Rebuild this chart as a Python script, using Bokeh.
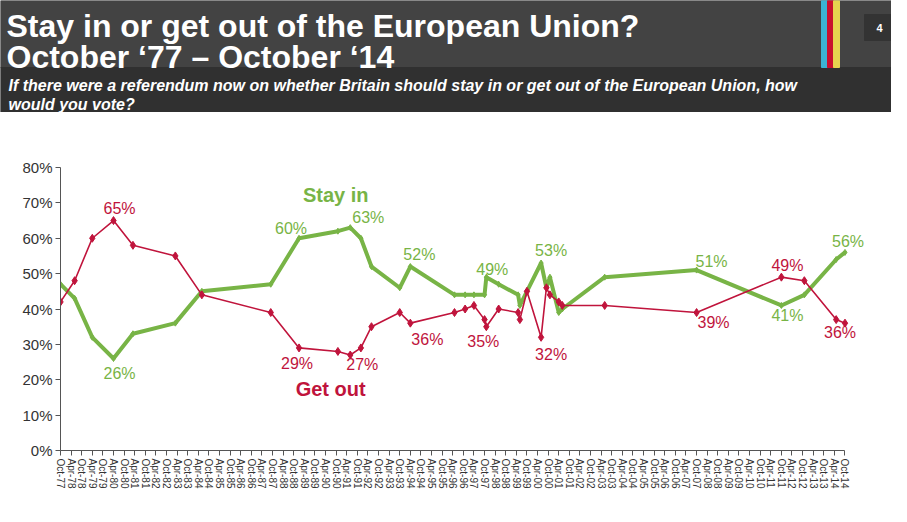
import math
from bokeh.plotting import figure
from bokeh.layouts import column
from bokeh.models import ColumnDataSource, Range1d, FixedTicker, PrintfTickFormatter
from bokeh.core.properties import value
from bokeh.embed import file_html
from bokeh.resources import INLINE

# Poll dates (year-month) and results in %
dates = ["1977-10", "1978-06", "1979-04", "1980-04", "1981-03", "1983-03", "1984-06",
         "1987-09", "1989-01", "1990-11", "1991-06", "1991-12", "1992-06", "1993-10",
         "1994-04", "1996-05", "1996-11", "1997-04", "1997-10", "1997-11", "1998-06",
         "1999-05", "1999-06", "1999-10", "2000-06", "2000-09", "2000-11", "2001-04",
         "2001-06", "2003-06", "2007-10", "2011-10", "2012-11", "2014-05", "2014-10"]
stay_in = [47, 43, 32, 26, 33, 36, 45, 47, 60, 62, 63, 60, 52, 46, 52, 44, 44, 44,
           44, 49, 47, 44, 41, 45, 53, 46, 49, 39, 40, 49, 51, 41, 44, 54, 56]
get_out = [42, 48, 60, 65, 58, 55, 44, 39, 29, 28, 27, 29, 35, 39, 36, 39, 40, 41,
           37, 35, 40, 39, 37, 45, 32, 46, 44, 42, 41, 41, 39, 49, 48, 37, 36]

# half-yearly category labels on the x axis: Oct-77, Apr-78 ... Oct-14
tick_labels = [("Oct" if k % 2 == 0 else "Apr") + "-%02d" % ((1977 + (k + 1) // 2) % 100)
               for k in range(75)]
y_ticks = [0, 10, 20, 30, 40, 50, 60, 70, 80]

title_lines = ["Stay in or get out of the European Union?", "October \u201877 \u2013 October \u201814"]
subtitle_lines = ["If there were a referendum now on whether Britain should stay in or get out of the European Union, how",
                  "would you vote?"]

GREEN = "#78b446"
RED = "#c0143c"
FONT = value("Liberation Sans")


def to_year(d):
    y, m = d.split("-")
    return int(y) + (int(m) - 1) / 12


x = [to_year(d) for d in dates]
tick_pos = [1977.75 + 0.5 * k for k in range(len(tick_labels))]

# ---------- header ----------
h = figure(width=891, height=112, x_range=Range1d(0, 891), y_range=Range1d(112, 0),
           toolbar_location=None, output_backend="svg", min_border=0)
h.frame_align = False
h.axis.visible = False
h.grid.visible = False
h.outline_line_color = None

h.quad(left=[0], right=[891], top=[0], bottom=[67], color="#434343")
h.quad(left=[0], right=[891], top=[67], bottom=[112], color="#303030")
h.quad(left=[821, 827, 833], right=[827, 833, 839], top=[0, 0, 0], bottom=[67, 67, 67],
       color=["#3bb3d3", "#c8102e", "#e6d34f"])
h.quad(left=[864], right=[891], top=[14], bottom=[40], color="#333333")
h.text(x=[879], y=[27], text=["4"], text_font=FONT, text_font_style="bold",
       text_font_size="11px", text_color="white", text_align="center", text_baseline="middle")

h.text(x=[6, 6], y=[25, 56], text=title_lines, text_font=FONT, text_font_style="bold",
       text_font_size="32px", text_color="white", text_baseline="alphabetic")
h.text(x=[8, 8], y=[85, 104], text=subtitle_lines, text_font=FONT, text_font_style="bold italic",
       text_font_size="16px", text_color="white", text_baseline="alphabetic")

# ---------- chart ----------
p = figure(width=891, height=394, x_range=Range1d(1977.75, 2016.0), y_range=Range1d(0, 80),
           toolbar_location=None, output_backend="svg",
           min_border_left=60, min_border_right=20, min_border_top=55, min_border_bottom=56)
p.frame_align = False
p.grid.visible = False
p.outline_line_color = None

p.line(x, stay_in, line_width=4, color=GREEN)
p.scatter(x, stay_in, marker="diamond", size=6, color=GREEN)
p.line(x, get_out, line_width=1.6, color=RED)
p.scatter(x, get_out, marker="diamond", size=8, color=RED)

# value labels: (point index, dx, dy) in pixels
stay_marks = [(3, 6, 15), (8, -8, -10), (10, 18, -10), (14, 9, -12), (19, 6, -8),
              (24, 10, -13), (30, 15, -9), (31, 6, 10), (34, 3, -11)]
out_marks = [(3, 6, -12), (8, -2, 16), (10, 12, 10), (14, 17, 16), (19, -3, 15),
             (24, 10, 17), (30, 17, 10), (31, 6, -12), (34, -5, 9)]

for marks, series, col in [(stay_marks, stay_in, GREEN), (out_marks, get_out, RED)]:
    src = ColumnDataSource(dict(
        x=[x[i] for i, _, _ in marks],
        y=[series[i] for i, _, _ in marks],
        t=["%d%%" % series[i] for i, _, _ in marks],
        dx=[dx for _, dx, _ in marks],
        dy=[dy for _, _, dy in marks],
    ))
    p.text(x="x", y="y", text="t", x_offset="dx", y_offset="dy", source=src,
           text_font=FONT, text_font_size="16px", text_color=col,
           text_align="center", text_baseline="middle")

p.text(x=[1990.73], y=[72.3], text=["Stay in"], text_font=FONT, text_font_style="bold",
       text_font_size="20px", text_color=GREEN, text_align="center", text_baseline="middle")
p.text(x=[1990.49], y=[17.5], text=["Get out"], text_font=FONT, text_font_style="bold",
       text_font_size="20px", text_color=RED, text_align="center", text_baseline="middle")

p.xaxis.bounds = (1977.75, 2014.75)
p.xaxis.ticker = FixedTicker(ticks=tick_pos)
p.xaxis.major_label_overrides = dict(zip(tick_pos, tick_labels))
p.xaxis.major_label_orientation = -math.pi / 2
p.xaxis.major_label_text_font_size = "10px"
p.xaxis.major_label_standoff = 3

p.yaxis.ticker = FixedTicker(ticks=y_ticks)
p.yaxis.formatter = PrintfTickFormatter(format="%d%%")
p.yaxis.major_label_text_font_size = "15px"
p.yaxis.major_label_standoff = 3

for ax in (p.xaxis, p.yaxis):
    ax.major_label_text_font = "Liberation Sans"
    ax.major_label_text_color = "#333333"
    ax.axis_line_color = "#555555"
    ax.major_tick_line_color = "#555555"
    ax.major_tick_out = 5
    ax.major_tick_in = 0
    ax.minor_tick_out = 0
    ax.minor_tick_in = 0

layout = column(h, p, spacing=0)
open("out.html", "w").write(file_html(layout, INLINE))
